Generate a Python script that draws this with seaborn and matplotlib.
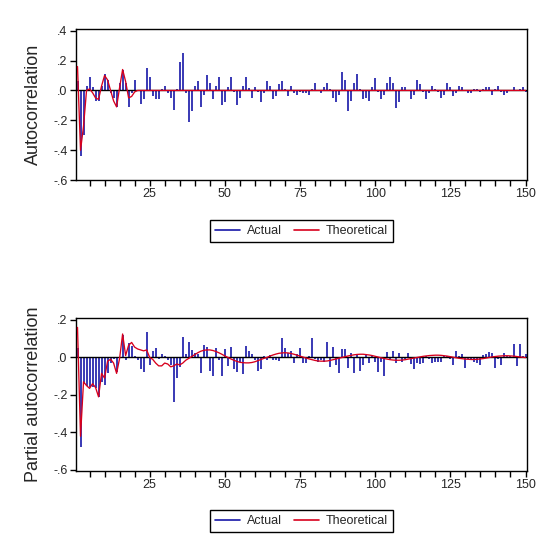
"""Correlogram of an ARMA fit: actual vs theoretical autocorrelations."""

import numpy as np
import pandas as pd
import matplotlib
matplotlib.use('Agg')
import matplotlib.pyplot as plt
from matplotlib.lines import Line2D
from matplotlib.ticker import FixedLocator, MultipleLocator
import seaborn as sns


LAGS = list(range(1, 151))

ACF_ACTUAL = [
    0.06, -0.44, -0.30, 0.03, 0.09, 0.02, -0.07, -0.07, 0.03, 0.11,
    0.07, -0.02, -0.05, -0.11, 0.05, 0.14, 0.05, -0.11, -0.02, 0.07,
    0.00, -0.09, -0.06, 0.15, 0.09, -0.04, -0.06, -0.06, 0.01, 0.03,
    -0.02, -0.05, -0.13, 0.01, 0.19, 0.25, -0.02, -0.21, -0.14, 0.03,
    0.06, -0.11, -0.03, 0.10, 0.05, -0.06, 0.03, 0.09, -0.10, -0.08,
    0.02, 0.09, -0.01, -0.10, -0.05, 0.03, 0.09, 0.015, -0.05, 0.02,
    -0.01, -0.08, -0.02, 0.06, 0.03, -0.06, -0.04, 0.04, 0.06, 0.01,
    -0.04, 0.03, -0.02, -0.03, -0.01, -0.02, -0.02, -0.03, 0.01, 0.05,
    0.00, -0.02, 0.02, 0.05, 0.01, -0.05, -0.08, -0.03, 0.12, 0.07,
    -0.14, -0.07, 0.05, 0.11, 0.01, -0.06, -0.05, -0.07, 0.02, 0.08,
    -0.01, -0.06, -0.03, 0.05, 0.09, 0.05, -0.12, -0.08, 0.02, 0.02,
    0.00, -0.06, -0.03, 0.07, 0.04, -0.01, -0.06, -0.02, 0.03, 0.01,
    -0.01, -0.05, -0.03, 0.05, 0.02, -0.04, -0.02, 0.03, 0.02, 0.00,
    -0.02, -0.02, 0.01, 0.01, -0.01, 0.01, 0.02, 0.02, -0.03, 0.01,
    0.03, -0.01, -0.03, -0.02, 0.00, 0.02, 0.00, 0.01, 0.02, -0.01,
]

ACF_THEORY = [
    0.16, -0.40, -0.24, 0.00, 0.01, -0.015, -0.05, -0.06, 0.03, 0.10,
    0.07, 0.00, -0.07, -0.11, 0.02, 0.14, 0.06, -0.05, -0.04, -0.01,
    0.00, 0.00, 0.00, 0.00, 0.00, 0.00, 0.00, 0.00, 0.00, 0.00,
    0.00, 0.00, 0.00, 0.00, 0.00, 0.00, 0.00, 0.00, 0.00, 0.00,
    0.00, 0.00, 0.00, 0.00, 0.00, 0.00, 0.00, 0.00, 0.00, 0.00,
    0.00, 0.00, 0.00, 0.00, 0.00, 0.00, 0.00, 0.00, 0.00, 0.00,
    0.00, 0.00, 0.00, 0.00, 0.00, 0.00, 0.00, 0.00, 0.00, 0.00,
    0.00, 0.00, 0.00, 0.00, 0.00, 0.00, 0.00, 0.00, 0.00, 0.00,
    0.00, 0.00, 0.00, 0.00, 0.00, 0.00, 0.00, 0.00, 0.00, 0.00,
    0.00, 0.00, 0.00, 0.00, 0.00, 0.00, 0.00, 0.00, 0.00, 0.00,
    0.00, 0.00, 0.00, 0.00, 0.00, 0.00, 0.00, 0.00, 0.00, 0.00,
    0.00, 0.00, 0.00, 0.00, 0.00, 0.00, 0.00, 0.00, 0.00, 0.00,
    0.00, 0.00, 0.00, 0.00, 0.00, 0.00, 0.00, 0.00, 0.00, 0.00,
    0.00, 0.00, 0.00, 0.00, 0.00, 0.00, 0.00, 0.00, 0.00, 0.00,
    0.00, 0.00, 0.00, 0.00, 0.00, 0.00, 0.00, 0.00, 0.00, 0.00,
]

PACF_ACTUAL = [
    0.05, -0.48, -0.14, -0.15, -0.16, -0.155, -0.165, -0.21, -0.13, -0.145,
    -0.085, -0.03, -0.01, -0.08, 0.00, 0.12, -0.015, 0.075, 0.06, 0.01,
    -0.015, -0.06, -0.08, 0.135, -0.04, 0.035, 0.05, -0.01, 0.02, 0.01,
    -0.015, -0.04, -0.24, -0.11, -0.05, 0.11, 0.02, 0.08, 0.04, 0.025,
    0.02, -0.085, 0.065, 0.055, -0.07, -0.10, 0.05, -0.015, -0.10, 0.045,
    -0.045, 0.055, -0.06, -0.075, -0.025, -0.09, 0.06, 0.035, 0.02, -0.015,
    -0.07, -0.06, 0.005, -0.015, 0.015, -0.015, -0.015, -0.02, 0.105, 0.05,
    0.025, 0.035, -0.03, 0.02, 0.05, -0.03, -0.03, 0.01, 0.105, -0.01,
    -0.025, -0.015, -0.025, 0.08, -0.05, 0.055, -0.04, -0.085, 0.045, 0.045,
    -0.055, 0.025, -0.085, 0.02, -0.07, -0.04, 0.015, -0.03, 0.01, -0.025,
    -0.08, -0.025, -0.10, 0.03, -0.01, 0.035, -0.03, 0.025, -0.025, -0.01,
    0.025, -0.035, -0.06, -0.03, -0.035, -0.03, 0.01, -0.01, -0.03, -0.025,
    -0.025, -0.025, 0.005, 0.01, -0.01, -0.04, 0.035, 0.01, 0.02, -0.055,
    -0.01, -0.015, -0.025, -0.03, -0.04, 0.015, 0.02, 0.03, 0.025, -0.055,
    -0.01, -0.04, 0.025, 0.01, 0.01, 0.07, -0.045, 0.07, 0.01, 0.02,
]

PACF_THEORY = [
    0.16, -0.42, -0.13, -0.15, -0.165, -0.14, -0.16, -0.21, -0.085, -0.11,
    -0.02, -0.01, -0.03, -0.085, -0.005, 0.125, 0.01, 0.065, 0.08, 0.055,
    0.045, 0.04, 0.035, 0.04, 0.00, -0.01, -0.03, -0.045, -0.045, -0.03,
    -0.035, -0.05, -0.045, -0.035, -0.04, -0.03, -0.015, -0.005, 0.005, 0.015,
    0.025, 0.033, 0.038, 0.04, 0.04, 0.037, 0.032, 0.025, 0.017, 0.008,
    0.00, -0.008, -0.015, -0.021, -0.026, -0.028, -0.029, -0.029, -0.027, -0.023,
    -0.017, -0.011, -0.005, 0.00, 0.007, 0.013, 0.018, 0.022, 0.024, 0.025,
    0.024, 0.021, 0.017, 0.012, 0.007, 0.002, -0.003, -0.008, -0.012, -0.016,
    -0.019, -0.02, -0.02, -0.019, -0.016, -0.012, -0.008, -0.004, 0.00, 0.004,
    0.008, 0.011, 0.014, 0.016, 0.017, 0.017, 0.015, 0.013, 0.01, 0.006,
    0.002, -0.002, -0.006, -0.009, -0.012, -0.014, -0.015, -0.015, -0.014, -0.012,
    -0.009, -0.006, -0.003, 0.00, 0.003, 0.006, 0.008, 0.01, 0.011, 0.012,
    0.012, 0.011, 0.009, 0.007, 0.004, 0.001, -0.002, -0.005, -0.007, -0.009,
    -0.01, -0.011, -0.011, -0.01, -0.008, -0.006, -0.003, 0.00, 0.003, 0.005,
    0.007, 0.008, 0.009, 0.009, 0.008, 0.007, 0.005, 0.003, 0.001, -0.001,
]

X_TICKS = [25, 50, 75, 100, 125, 150]
TOP_YTICKS = [-0.6, -0.4, -0.2, 0.0, 0.2, 0.4]
TOP_YLABELS = ['-.6', '-.4', '-.2', '.0', '.2', '.4']
BOT_YTICKS = [-0.6, -0.4, -0.2, 0.0, 0.2]
BOT_YLABELS = ['-.6', '-.4', '-.2', '.0', '.2']

BLUE = '#1616a8'
RED = '#d8001c'


def draw_panel(ax, actual, theory, ylim, yticks, ylabels, ylabel, legend_y):
    df = pd.DataFrame({'lag': LAGS, 'actual': actual, 'theory': theory})

    # spikes from zero, then the zero line, then the theoretical curve on top
    ax.vlines(df['lag'], 0, df['actual'], color=BLUE, lw=1.2, zorder=1)
    ax.axhline(0, color='black', lw=1.0, zorder=2)
    sns.lineplot(data=df, x='lag', y='theory', color=RED, lw=0.95, ax=ax, zorder=3)

    ax.set_xlim(0.5, 150.5)
    ax.set_ylim(*ylim)
    ax.xaxis.set_major_locator(FixedLocator(X_TICKS))
    ax.xaxis.set_minor_locator(MultipleLocator(5))
    ax.set_yticks(yticks)
    ax.set_yticklabels(ylabels)
    ax.tick_params(axis='both', which='both', direction='out', length=4,
                   width=1, color='black', labelsize=9, pad=2)
    ax.set_xlabel('')
    ax.set_ylabel(ylabel, fontsize=13)
    ax.yaxis.set_label_coords(-0.075, 0.5)
    for sp in ax.spines.values():
        sp.set_visible(True)
        sp.set_color('black')
        sp.set_linewidth(1.0)

    handles = [Line2D([], [], color=BLUE, lw=1.2), Line2D([], [], color=RED, lw=1.2)]
    leg = ax.legend(handles, ['Actual', 'Theoretical'], loc='center',
                    bbox_to_anchor=(0.5, legend_y), ncol=2, fontsize=9,
                    frameon=True, fancybox=False, framealpha=1,
                    edgecolor='black', handlelength=2.0, handletextpad=0.5,
                    columnspacing=1.0, borderpad=0.4, borderaxespad=0)
    leg.get_frame().set_linewidth(1.0)


sns.set_style('ticks')
plt.rcParams['font.family'] = ['Liberation Sans', 'DejaVu Sans']

fig = plt.figure(figsize=(5.56, 5.56), dpi=100)
ax1 = fig.add_axes([0.1367, 0.676, 0.8112, 0.2716])
ax2 = fig.add_axes([0.1367, 0.153, 0.8112, 0.275])

draw_panel(ax1, ACF_ACTUAL, ACF_THEORY, (-0.6, 0.41), TOP_YTICKS, TOP_YLABELS,
           'Autocorrelation', -0.338)
draw_panel(ax2, PACF_ACTUAL, PACF_THEORY, (-0.605, 0.21), BOT_YTICKS, BOT_YLABELS,
           'Partial autocorrelation', -0.327)

fig.savefig('out.png', dpi=100)
